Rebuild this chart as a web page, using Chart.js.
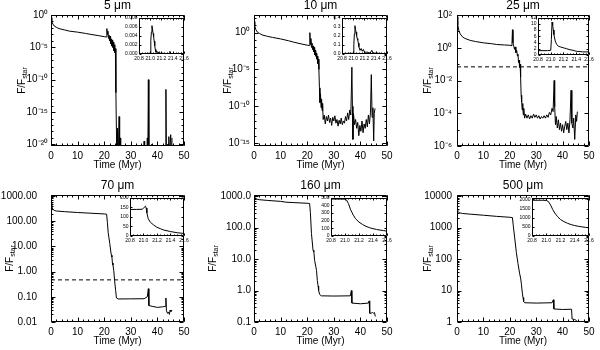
<!DOCTYPE html>
<html>
<head>
<meta charset="utf-8">
<script src="https://cdn.jsdelivr.net/npm/chart.js@4.4.1/dist/chart.umd.min.js"></script>
<style>
  body { margin: 0; background: #fff; }
  #wrap { position: relative; width: 600px; height: 350px; background: #fff; }
  canvas { position: absolute; }
</style>
</head>
<body>
<div id="wrap"></div>
<script>
// ---- shared axis values ----
const xTicks = [0, 10, 20, 30, 40, 50];
const xLabels = ['0', '10', '20', '30', '40', '50'];
const insetXTicks = [20.8, 21.0, 21.2, 21.4, 21.6];
const insetXLabels = ['20.8', '21.0', '21.2', '21.4', '21.6'];

// ---- 5 micron (log10 of F/Fstar) ----
const t1 = [0, 0.3, 0.7, 1.2, 2, 3, 5, 7, 10, 13,
  15, 18, 20, 20.8, 21.0, 21.2, 21.4, 21.6, 21.8, 22.0,
  22.2, 22.4, 22.6, 22.8, 23.0, 23.2, 23.4, 23.6, 23.8, 24.0,
  24.2, 24.4, 24.6, 24.8, 25.0, 25.2, 25.4, 25.6, 25.8, 26.0,
  26.2, 34.8, 35.0, 35.2, 36.0, 36.2, 36.4, 36.6, 36.8, 37.6,
  37.8, 38.0, 43.0, 43.2, 43.4, 43.8, 44.0, 44.3, 44.5, 45.0,
  45.3, 45.5];
const logF1 = [-0.4, -1.0, -1.4, -1.7, -1.9, -2.1, -2.3, -2.5, -2.65, -2.85,
  -3.0, -3.2, -3.35, -3.4, -2.1, -3.0, -2.5, -3.6, -3.1, -4.0,
  -3.3, -4.4, -3.7, -4.8, -3.9, -5.0, -4.2, -5.5, -4.6, -5.8,
  -5.2, -12, -18, -22, -17.5, -22, -19.5, -15.7, -22, -19,
  -22, -22, -19.5, -22, -22, -19.0, -22, -10.0, -22, -22,
  -20, -22, -22, -11.5, -22, -20, -22, -18.8, -22, -18.5,
  -22, -19];
const yTicks1 = [1e-20, 1e-15, 1e-10, 1e-5, 1];
const yLabels1 = ['10⁻²⁰', '10⁻¹⁵', '10⁻¹⁰', '10⁻⁵', '10⁰'];

// ---- 10 micron (log10) ----
const t2 = [0, 0.3, 0.7, 1.2, 2, 3, 5, 7, 10, 13,
  15, 18, 20, 20.8, 21.0, 21.2, 21.4, 21.6, 21.8, 22.0,
  22.2, 22.4, 22.6, 22.8, 23.0, 23.2, 23.4, 23.6, 23.8, 24.0,
  24.2, 24.4, 24.6, 24.8, 25.0, 25.2, 25.4, 25.6, 25.8, 26.0,
  26.4, 26.8, 27.2, 27.6, 28.0, 28.4, 28.8, 29.2, 29.6, 30.0,
  30.4, 30.8, 31.2, 31.6, 32.0, 32.4, 32.8, 33.2, 33.6, 34.0,
  34.4, 34.8, 35.2, 35.6, 36.0, 36.4, 36.8, 37.0, 37.2, 37.4,
  37.8, 38.2, 38.6, 39.0, 39.4, 39.8, 40.2, 40.6, 41.0, 41.4,
  41.8, 42.2, 42.6, 43.0, 43.4, 43.8, 44.1, 44.4, 44.7, 45.0,
  45.2, 45.5];
const logF2 = [1.5, 0.9, 0.4, 0.1, -0.1, -0.3, -0.5, -0.65, -0.85, -1.1,
  -1.3, -1.55, -1.7, -1.75, 0.0, -1.6, -0.8, -2.0, -1.4, -2.3,
  -1.8, -2.6, -2.0, -3.0, -2.4, -3.2, -2.8, -3.6, -3.2, -4.2,
  -3.6, -5.0, -7.5, -9.5, -8.3, -10.2, -9.0, -10.6, -9.6, -11.8,
  -11.2, -12.4, -11.4, -12.0, -11.2, -12.2, -11.6, -12.6, -11.5, -12.0,
  -11.3, -12.3, -11.8, -12.7, -11.9, -12.4, -11.6, -12.5, -12.0, -12.3,
  -11.4, -12.0, -10.9, -11.8, -10.5, -11.2, -4.7, -10.0, -14.5, -11.0,
  -12.5, -11.8, -13.0, -12.2, -14.0, -12.6, -13.4, -12.0, -13.6, -12.4,
  -13.0, -11.8, -12.8, -11.2, -12.4, -10.8, -5.7, -11.5, -10.2, -14.7,
  -11.0, -10.3];
const yTicks2 = [1e-15, 1e-10, 1e-5, 1];
const yLabels2 = ['10⁻¹⁵', '10⁻¹⁰', '10⁻⁵', '10⁰'];

// ---- 25 micron (log10) ----
const t3 = [0, 0.3, 0.7, 1.2, 2, 3, 5, 7, 10, 13,
  15, 18, 20, 20.8, 21.0, 21.2, 21.5, 21.8, 22.0, 22.3,
  22.6, 22.9, 23.1, 23.3, 23.5, 23.7, 23.9, 24.1, 24.3, 24.5,
  24.7, 24.9, 25.1, 25.3, 25.6, 26.0, 26.5, 27.0, 27.5, 28.0,
  28.5, 29.0, 29.5, 30.0, 30.5, 31.0, 31.5, 32.0, 32.5, 33.0,
  33.5, 34.0, 34.5, 35.0, 35.5, 36.0, 36.4, 36.8, 37.0, 37.3,
  37.6, 38.0, 38.4, 38.8, 39.2, 39.6, 40.0, 40.4, 40.8, 41.2,
  41.6, 42.0, 42.4, 42.8, 43.2, 43.5, 43.9, 44.2, 44.6, 45.0,
  45.3, 45.6];
const logF3 = [1.9, 1.4, 1.05, 0.85, 0.68, 0.57, 0.45, 0.38, 0.3, 0.25,
  0.2, 0.17, 0.15, 0.12, 1.1, 0.3, 0.1, -0.1, 0.05, -0.3,
  -0.15, -0.5, -0.4, -0.9, -0.75, -1.2, -1.0, -1.8, -2.9, -3.3,
  -3.8, -3.4, -4.1, -3.7, -4.3, -4.05, -4.3, -4.1, -4.35, -4.15,
  -4.3, -4.05, -4.25, -4.1, -4.3, -4.15, -4.35, -4.2, -4.3, -4.15,
  -4.3, -4.1, -4.25, -3.95, -4.1, -3.7, -3.9, -2.0, -3.6, -4.7,
  -4.2, -4.9, -4.4, -5.0, -4.6, -5.1, -4.7, -5.2, -4.8, -4.5,
  -5.0, -4.6, -5.2, -4.4, -2.6, -4.6, -4.9, -4.3, -5.6, -4.1,
  -4.5, -3.9];
const yTicks3 = [1e-6, 1e-4, 1e-2, 1, 100];
const yLabels3 = ['10⁻⁶', '10⁻⁴', '10⁻²', '10⁰', '10²'];
const dash3 = 0.068;

// ---- 70 micron ----
const t4 = [0, 0.3, 0.7, 1.2, 2, 5, 10, 15, 20, 20.9,
  21.2, 21.5, 22.1, 22.5, 22.7, 22.9, 23.1, 23.3, 23.6, 23.9,
  24.3, 24.6, 25.2, 30, 35, 36.2, 36.6, 36.8, 38, 40,
  42, 43.0, 43.2, 43.4, 43.8, 44.2, 44.5, 44.8, 45.1, 45.5];
const f4 = [525, 380, 300, 270, 255, 240, 222, 208, 195, 190,
  90, 35, 13, 6, 4.5, 3.8, 2.2, 1.8, 1.1, 0.45,
  0.18, 0.09, 0.082, 0.083, 0.084, 0.1, 0.21, 0.045, 0.042, 0.038,
  0.04, 0.042, 0.09, 0.028, 0.022, 0.025, 0.02, 0.03, 0.026, 0.03];
const yTicks4 = [0.01, 0.1, 1, 10, 100, 1000];
const yLabels4 = ['0.01', '0.10', '1.00', '10.00', '100.00', '1000.00'];
const dash4 = 0.47;

// ---- 160 micron ----
const t5 = [0, 0.3, 0.7, 1.2, 2, 5, 10, 12, 15, 20,
  20.9, 21.2, 21.6, 22.2, 22.5, 22.8, 23.2, 23.5, 23.8, 24.1,
  24.3, 24.7, 25.3, 30, 36.2, 36.6, 36.8, 40, 43.0, 43.3,
  43.5, 44, 44.5, 45.0, 45.3, 45.6];
const f5 = [1000, 900, 840, 800, 780, 740, 690, 650, 630, 600,
  590, 300, 65, 19, 17, 9, 6, 4.4, 2.1, 1.4,
  1.0, 0.75, 0.68, 0.67, 0.68, 1.0, 0.4, 0.38, 0.4, 0.47,
  0.19, 0.19, 0.2, 0.19, 0.2, 0.15];
const yTicks5 = [0.1, 1, 10, 100, 1000];
const yLabels5 = ['0.1', '1.0', '10.0', '100.0', '1000.0'];

// ---- 500 micron ----
const t6 = [0, 0.3, 0.7, 1.2, 2, 5, 10, 15, 20, 21.0,
  21.3, 21.9, 22.5, 23.1, 23.75, 24.1, 24.4, 24.75, 25.0, 25.25,
  25.6, 30, 36.0, 36.5, 36.7, 40, 43.4, 43.6, 44.5, 45.0,
  45.3, 45.6];
const f6 = [3800, 3300, 3050, 2950, 2850, 2700, 2500, 2300, 2150, 2100,
  1200, 440, 160, 73, 34, 25, 16, 8.3, 6, 4.5,
  4.1, 4.0, 4.1, 5.1, 2.6, 2.5, 2.55, 1.25, 1.2, 1.15,
  1.1, 0.9];
const yTicks6 = [1, 10, 100, 1000, 10000];
const yLabels6 = ['1', '10', '100', '1000', '10000'];

// ---- insets (20.8 - 21.6 Myr, linear) ----
const it1 = [20.8, 20.95, 21.0, 21.01, 21.02, 21.03, 21.04, 21.05, 21.06, 21.07, 21.08, 21.09, 21.1,
  21.12, 21.14, 21.16, 21.18, 21.2, 21.25, 21.3, 21.34, 21.35, 21.36, 21.4, 21.5, 21.6];
const iv1 = [0.0001, 0.0001, 0.0002, 0.003, 0.0048, 0.0062, 0.0055, 0.0045, 0.0038, 0.0028, 0.0018, 0.0010, 0.0004,
  0.0006, 0.0002, 0.0005, 0.0001, 0.0002, 0.0001, 0.0001, 0.0001, 0.0006, 0.0001, 0.0001, 0.0001, 0.0001];
const iyTicks1 = [0, 0.002, 0.004, 0.006, 0.008];
const iyLabels1 = ['0.000', '0.002', '0.004', '0.006', '0.008'];

const it2 = [20.8, 21.0, 21.01, 21.02, 21.03, 21.04, 21.05, 21.06, 21.07, 21.08, 21.09, 21.1,
  21.12, 21.14, 21.16, 21.18, 21.2, 21.25, 21.3, 21.33, 21.35, 21.4, 21.5, 21.6];
const iv2 = [0.005, 0.008, 0.1, 0.22, 0.31, 0.27, 0.24, 0.2, 0.17, 0.15, 0.12, 0.08,
  0.04, 0.06, 0.03, 0.05, 0.02, 0.02, 0.01, 0.04, 0.01, 0.01, 0.005, 0.005];
const iyTicks2 = [0, 0.1, 0.2, 0.3, 0.4];
const iyLabels2 = ['0.0', '0.1', '0.2', '0.3', '0.4'];

const it3 = [20.8, 20.95, 21.0, 21.01, 21.02, 21.03, 21.04, 21.05, 21.07, 21.09,
  21.12, 21.15, 21.2, 21.25, 21.3, 21.35, 21.4, 21.5, 21.6];
const iv3 = [1.4, 1.4, 1.5, 5, 10.5, 9.5, 8, 6.5, 4.5, 3.5,
  2.8, 2.6, 2.3, 2.0, 1.7, 1.5, 1.2, 1.0, 1.0];
const iyTicks3 = [0, 2, 4, 6, 8, 10, 12];
const iyLabels3 = ['0', '2', '4', '6', '8', '10', '12'];

const it4 = [20.8, 20.9, 20.98, 21.0, 21.03, 21.04, 21.05, 21.07, 21.1, 21.15, 21.2, 21.25, 21.3, 21.4, 21.5, 21.6];
const iv4 = [138, 138, 139, 145, 155, 145, 120, 90, 72, 57, 45, 38, 31, 23, 17, 13];
const iyTicks4 = [0, 50, 100, 150, 200];
const iyLabels4 = ['0', '50', '100', '150', '200'];

const it5 = [20.8, 20.95, 21.0, 21.02, 21.05, 21.08, 21.12, 21.15, 21.2, 21.25, 21.3, 21.35, 21.4, 21.45, 21.5, 21.55, 21.6];
const iv5 = [480, 480, 478, 470, 420, 340, 270, 225, 180, 150, 125, 108, 95, 85, 77, 70, 64];
const iyTicks5 = [0, 100, 200, 300, 400, 500];
const iyLabels5 = ['0', '100', '200', '300', '400', '500'];

const it6 = [20.8, 20.95, 21.0, 21.03, 21.06, 21.09, 21.12, 21.16, 21.2, 21.25, 21.3, 21.35, 21.4, 21.45, 21.5, 21.55, 21.6];
const iv6 = [1950, 1950, 1940, 1880, 1700, 1450, 1250, 1050, 900, 780, 690, 620, 570, 530, 500, 470, 450];
const iyTicks6 = [0, 500, 1000, 1500, 2000];
const iyLabels6 = ['0', '500', '1000', '1500', '2000'];

const FONT = '"Liberation Sans", Arial, Helvetica, sans-serif';
Chart.defaults.font.family = FONT;
Chart.defaults.color = '#000';

function addCanvas(x, y, w, h) {
  const c = document.createElement('canvas');
  c.width = w; c.height = h;
  c.style.left = x + 'px'; c.style.top = y + 'px';
  document.getElementById('wrap').appendChild(c);
  return c;
}

const pts = (t, v) => t.map((x, i) => ({ x: x, y: v[i] }));
const fromLog = a => a.map(v => Math.pow(10, v));

// tick decoration helpers (not data)
function stepVals(min, max, step) {
  const out = [];
  for (let v = min; v <= max + 1e-9; v += step) out.push(+v.toFixed(6));
  return out;
}
function logMinors(min, max, fine) {
  const out = [];
  for (let e = Math.floor(Math.log10(min)); e <= Math.ceil(Math.log10(max)); e++) {
    if (fine) { for (let m = 2; m <= 9; m++) out.push(m * Math.pow(10, e)); }
    else out.push(Math.pow(10, e));
  }
  return out.filter(v => v >= min && v <= max);
}

// box with inward ticks on all four sides
const frame = {
  id: 'frame',
  beforeDatasetsDraw(chart, args, o) {
    if (!o.fill) return;
    const a = chart.chartArea, ctx = chart.ctx;
    ctx.save();
    ctx.fillStyle = '#fff';
    ctx.fillRect(a.left, a.top, a.width, a.height);
    ctx.restore();
  },
  afterDatasetsDraw(chart, args, o) {
    const { ctx, chartArea: a, scales } = chart;
    const x = scales.x, y = scales.y;
    const l = Math.round(a.left) + 0.5, r = Math.round(a.right) - 0.5;
    const t = Math.round(a.top) + 0.5, b = Math.round(a.bottom) - 0.5;
    ctx.save();
    ctx.strokeStyle = '#000';
    ctx.lineWidth = 1;
    ctx.beginPath();
    ctx.rect(l, t, r - l, b - t);
    const xs = (vals, len) => vals.forEach(v => {
      const p = Math.round(x.getPixelForValue(v)) + 0.5;
      ctx.moveTo(p, b); ctx.lineTo(p, b - len);
      ctx.moveTo(p, t); ctx.lineTo(p, t + len);
    });
    const ys = (vals, len) => vals.forEach(v => {
      const p = Math.round(y.getPixelForValue(v)) + 0.5;
      ctx.moveTo(l, p); ctx.lineTo(l + len, p);
      ctx.moveTo(r, p); ctx.lineTo(r - len, p);
    });
    xs(o.xMaj, o.majLen); xs(o.xMin, o.minLen);
    ys(o.yMaj, o.majLen); ys(o.yMin, o.minLen);
    ctx.stroke();
    ctx.restore();
  }
};

// panel title, x title and F/Fstar label
const captions = {
  id: 'captions',
  afterDraw(chart, args, o) {
    if (!o.title) return;
    const { ctx, chartArea: a } = chart;
    const cx = (a.left + a.right) / 2;
    ctx.save();
    ctx.fillStyle = '#000';
    ctx.textAlign = 'center';
    ctx.textBaseline = 'middle';
    ctx.font = '12px ' + FONT;
    ctx.fillText(o.title, cx, a.top - 9);
    ctx.font = '10px ' + FONT;
    ctx.fillText('Time (Myr)', cx, a.bottom + 19);
    ctx.translate(o.yLabelX, (a.top + a.bottom) / 2);
    ctx.rotate(-Math.PI / 2);
    ctx.textAlign = 'left';
    ctx.textBaseline = 'middle';
    ctx.font = '10px ' + FONT;
    const w1 = ctx.measureText('F/F').width;
    ctx.font = '7px ' + FONT;
    const w2 = ctx.measureText('star').width;
    const x0 = -(w1 + w2) / 2;
    ctx.font = '10px ' + FONT;
    ctx.fillText('F/F', x0, 0);
    ctx.font = '7px ' + FONT;
    ctx.fillText('star', x0 + w1, 3);
    ctx.restore();
  }
};

function mainChart(p) {
  const W = 200, H = 175;
  const [L, T, R, B] = p.box;
  const cv = addCanvas(p.x, p.y, W, H);
  const datasets = [{
    data: pts(p.t, p.f), borderColor: '#000', borderWidth: 1, pointRadius: 0, tension: 0
  }];
  if (p.dash) {
    datasets.push({
      data: [{ x: 0, y: p.dash }, { x: 50, y: p.dash }],
      borderColor: '#000', borderWidth: 1, borderDash: [4, 3], pointRadius: 0
    });
  }
  new Chart(cv, {
    type: 'line',
    data: { datasets },
    options: {
      responsive: false, animation: false, events: [],
      layout: { padding: { left: 0, top: T, right: W - R, bottom: 0 } },
      scales: {
        x: {
          type: 'linear', min: 0, max: 50,
          grid: { display: false, drawTicks: false }, border: { display: false },
          afterBuildTicks: s => { s.ticks = xTicks.map(v => ({ value: v })); },
          afterFit: s => { s.height = H - B; },
          ticks: { font: { size: 10 }, padding: 4, maxRotation: 0, autoSkip: false,
                   callback: (v, i) => xLabels[i] }
        },
        y: {
          type: 'logarithmic', min: p.ymin, max: p.ymax,
          grid: { display: false, drawTicks: false }, border: { display: false },
          afterBuildTicks: s => { s.ticks = p.yTicks.map(v => ({ value: v })); },
          afterFit: s => { s.width = L; },
          ticks: { font: { size: 10 }, padding: p.yPad, autoSkip: false,
                   callback: (v, i) => p.yLabels[i] }
        }
      },
      plugins: {
        legend: { display: false }, tooltip: { enabled: false },
        frame: { xMaj: xTicks, xMin: stepVals(0, 50, 2), yMaj: p.yTicks,
                 yMin: logMinors(p.ymin, p.ymax, p.fine), majLen: 4, minLen: 2 },
        captions: { title: p.title, yLabelX: p.yLabelX }
      }
    },
    plugins: [frame, captions]
  });
}

function insetChart(p) {
  const padL = 16, padT = 3, padR = 7, padB = 10;
  const [L, T, R, B] = p.box;
  const W = R - L + padL + padR, H = B - T + padT + padB;
  const cv = addCanvas(L - padL, T - padT, W, H);
  new Chart(cv, {
    type: 'line',
    data: { datasets: [{ data: pts(p.t, p.v), borderColor: '#000', borderWidth: 1, pointRadius: 0, tension: 0 }] },
    options: {
      responsive: false, animation: false, events: [],
      layout: { padding: { left: 0, top: padT, right: padR, bottom: 0 } },
      scales: {
        x: {
          type: 'linear', min: 20.8, max: 21.6,
          grid: { display: false, drawTicks: false }, border: { display: false },
          afterBuildTicks: s => { s.ticks = insetXTicks.map(v => ({ value: v })); },
          afterFit: s => { s.height = padB; },
          ticks: { font: { size: 5 }, padding: 2, maxRotation: 0, autoSkip: false,
                   callback: (v, i) => insetXLabels[i] }
        },
        y: {
          type: 'linear', min: 0, max: p.ymax,
          grid: { display: false, drawTicks: false }, border: { display: false },
          afterBuildTicks: s => { s.ticks = p.yTicks.map(v => ({ value: v })); },
          afterFit: s => { s.width = padL; },
          ticks: { font: { size: 5 }, padding: 1.5, autoSkip: false,
                   callback: (v, i) => p.yLabels[i] }
        }
      },
      plugins: {
        legend: { display: false }, tooltip: { enabled: false },
        frame: { fill: true, xMaj: insetXTicks, xMin: stepVals(20.8, 21.6, 0.05), yMaj: p.yTicks,
                 yMin: [], majLen: 2, minLen: 1 },
        captions: {}
      }
    },
    plugins: [frame, captions]
  });
}

// ---- top row ----
mainChart({ x: 0, y: 0, box: [51, 15, 184, 146], t: t1, f: fromLog(logF1),
  ymin: Math.pow(10, -20.25), ymax: 1, yTicks: yTicks1, yLabels: yLabels1, yPad: 3, fine: false,
  title: '5 μm', yLabelX: 22 });
mainChart({ x: 200, y: 0, box: [54, 15, 187, 146], t: t2, f: fromLog(logF2),
  ymin: Math.pow(10, -15.4), ymax: Math.pow(10, 2.4), yTicks: yTicks2, yLabels: yLabels2, yPad: 4, fine: false,
  title: '10 μm', yLabelX: 28 });
mainChart({ x: 400, y: 0, box: [57, 15, 189, 146], t: t3, f: fromLog(logF3),
  ymin: 1e-6, ymax: 100, yTicks: yTicks3, yLabels: yLabels3, yPad: 5, fine: false, dash: dash3,
  title: '25 μm', yLabelX: 28 });

// ---- bottom row ----
mainChart({ x: 0, y: 175, box: [51, 20, 184, 147], t: t4, f: f4,
  ymin: 0.01, ymax: 1100, yTicks: yTicks4, yLabels: yLabels4, yPad: 14, fine: true, dash: dash4,
  title: '70 μm', yLabelX: 10 });
mainChart({ x: 200, y: 175, box: [54, 20, 187, 147], t: t5, f: f5,
  ymin: 0.1, ymax: 1100, yTicks: yTicks5, yLabels: yLabels5, yPad: 3, fine: true,
  title: '160 μm', yLabelX: 13 });
mainChart({ x: 400, y: 175, box: [57, 20, 189, 147], t: t6, f: f6,
  ymin: 1, ymax: 11000, yTicks: yTicks6, yLabels: yLabels6, yPad: 5, fine: true,
  title: '500 μm', yLabelX: 28 });

// ---- insets ----
insetChart({ box: [139, 16, 184, 54], t: it1, v: iv1, ymax: 0.008, yTicks: iyTicks1, yLabels: iyLabels1 });
insetChart({ box: [342, 16, 387, 54], t: it2, v: iv2, ymax: 0.4, yTicks: iyTicks2, yLabels: iyLabels2 });
insetChart({ box: [538, 16, 589, 55], t: it3, v: iv3, ymax: 12, yTicks: iyTicks3, yLabels: iyLabels3 });
insetChart({ box: [130, 196, 184, 236], t: it4, v: iv4, ymax: 200, yTicks: iyTicks4, yLabels: iyLabels4 });
insetChart({ box: [331, 196, 387, 236], t: it5, v: iv5, ymax: 500, yTicks: iyTicks5, yLabels: iyLabels5 });
insetChart({ box: [532, 196, 589, 236], t: it6, v: iv6, ymax: 2100, yTicks: iyTicks6, yLabels: iyLabels6 });
</script>
</body>
</html>
